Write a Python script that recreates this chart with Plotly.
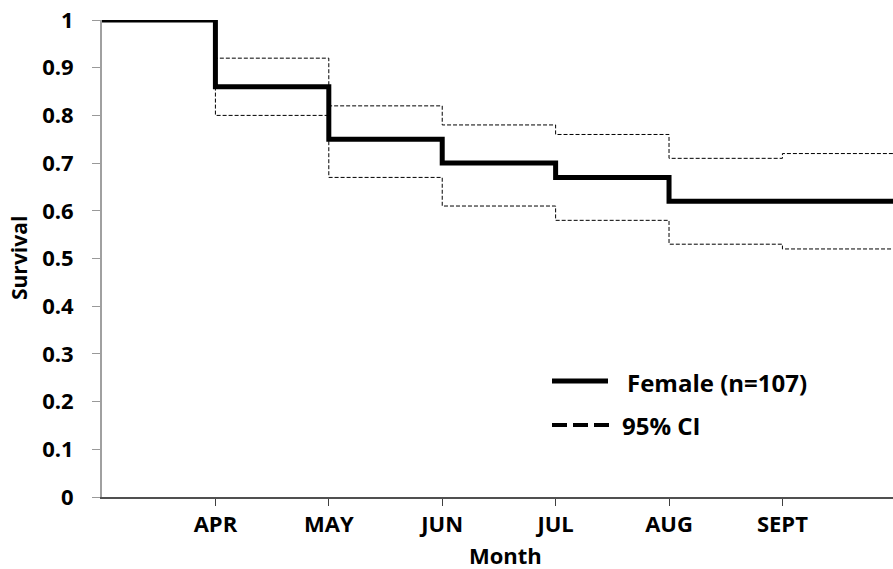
import plotly.graph_objects as go

# Data (x = month index: 0 start, 1=APR ... 6=SEPT, 7=end)
month_pos = [1, 2, 3, 4, 5, 6]
month_labels = ["APR", "MAY", "JUN", "JUL", "AUG", "SEPT"]

surv_x = [0, 1, 2, 3, 4, 5, 7]
surv_y = [1.0, 0.86, 0.75, 0.70, 0.67, 0.62, 0.62]

ci_x = [0, 1, 2, 3, 4, 5, 6, 7]
ci_upper = [1.0, 0.92, 0.82, 0.78, 0.76, 0.71, 0.72, 0.72]
ci_lower = [1.0, 0.80, 0.67, 0.61, 0.58, 0.53, 0.52, 0.52]

y_ticks = [0, 0.1, 0.2, 0.3, 0.4, 0.5, 0.6, 0.7, 0.8, 0.9, 1]
y_tick_labels = ["0", "0.1", "0.2", "0.3", "0.4", "0.5", "0.6", "0.7", "0.8", "0.9", "1"]

FONT = "Open Sans"

# page pixel -> paper helpers (plot area: x 102..893, y 20..497 in page coords)
def px(X):
    return (X - 102) / 791.0

def py(Y):
    return (497 - Y) / 477.0

fig = go.Figure()
for yy in (ci_upper, ci_lower):
    fig.add_trace(go.Scatter(x=ci_x, y=yy, mode="lines", line_shape="hv",
                             line=dict(color="black", width=1, dash="4px,2px"),
                             cliponaxis=False, showlegend=False, hoverinfo="skip"))
fig.add_trace(go.Scatter(x=surv_x, y=surv_y, mode="lines", line_shape="hv",
                         line=dict(color="black", width=5),
                         cliponaxis=False, showlegend=False))

# manual legend
fig.add_shape(type="line", xref="paper", yref="paper",
              x0=px(552), x1=px(608), y0=py(381), y1=py(381),
              line=dict(color="black", width=5))
fig.add_shape(type="line", xref="paper", yref="paper",
              x0=px(552), x1=px(610), y0=py(425), y1=py(425),
              line=dict(color="black", width=4, dash="15px,6px"))
fig.add_annotation(text="<b>Female (n=107)</b>", xref="paper", yref="paper",
                   x=px(625), y=py(382), xanchor="left", yanchor="middle",
                   showarrow=False, font=dict(family=FONT, size=24, color="black"))
fig.add_annotation(text="<b>95% CI</b>", xref="paper", yref="paper",
                   x=px(620), y=py(425), xanchor="left", yanchor="middle",
                   showarrow=False, font=dict(family=FONT, size=24, color="black"))
# axis titles
fig.add_annotation(text="<b>Month</b>", xref="paper", yref="paper",
                   x=px(505), y=py(555), xanchor="center", yanchor="middle",
                   showarrow=False, font=dict(family=FONT, size=22, color="black"))
fig.add_annotation(text="<b>Survival</b>", xref="paper", yref="paper",
                   x=px(19), y=py(258), xanchor="center", yanchor="middle",
                   textangle=-90, showarrow=False,
                   font=dict(family=FONT, size=21, color="black"))

fig.update_layout(
    width=893, height=569,
    margin=dict(l=102, r=0, t=20, b=72, autoexpand=False),
    paper_bgcolor="white", plot_bgcolor="white",
    font=dict(family=FONT, color="black"),
    xaxis=dict(range=[0, 6.975], tickmode="array", tickvals=month_pos,
               ticktext=["<b>%s</b>" % m for m in month_labels],
               ticks="outside", ticklen=7, tickcolor="#404040", tickwidth=1,
               showline=True, linecolor="#505050", linewidth=2, showgrid=False,
               zeroline=False, tickfont=dict(family=FONT, size=22), automargin=False,
               ticklabelstandoff=0, ticklabeloverflow="allow"),
    yaxis=dict(range=[0, 1], tickmode="array", tickvals=y_ticks,
               ticktext=["<b>%s</b>" % t for t in y_tick_labels],
               ticks="outside", ticklen=8, tickcolor="#999999", tickwidth=1,
               showline=True, linecolor="#a0a0a0", linewidth=2, showgrid=False,
               zeroline=False, tickfont=dict(family=FONT, size=22), automargin=False,
               ticklabelstandoff=14, ticklabeloverflow="allow"),
)

fig.write_html("out.html", config={"displayModeBar": False},
               post_script="document.body.style.margin='0';document.body.style.overflow='hidden';")
